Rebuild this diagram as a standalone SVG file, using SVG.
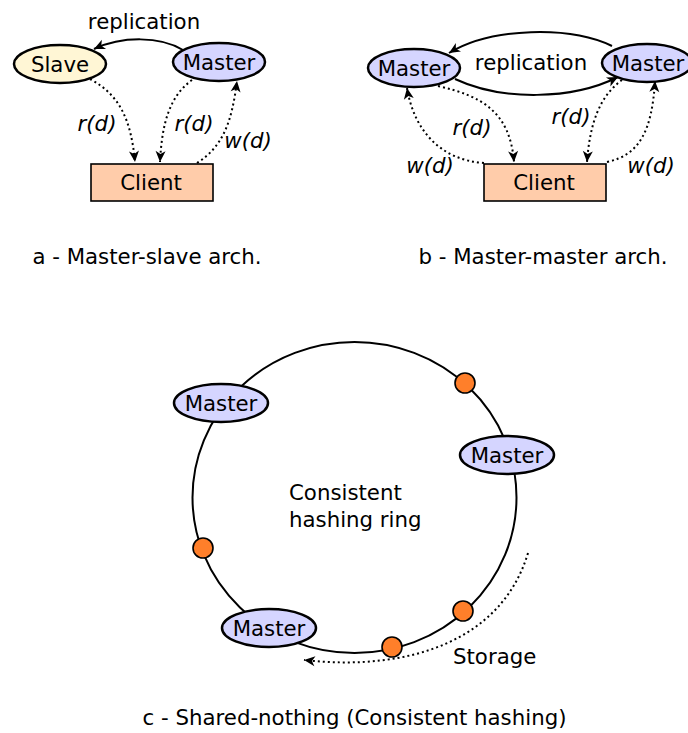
<svg xmlns="http://www.w3.org/2000/svg" width="688" height="733" viewBox="0 0 688 733">
<style>
text{font-family:"DejaVu Sans",Verdana,sans-serif;font-size:21.3px;fill:#000}
.c{text-anchor:middle}
.i{font-style:italic}
.master{fill:#d5d5ff;stroke:#000;stroke-width:2.5}
.slave{fill:#fff6d5;stroke:#000;stroke-width:2.5}
.client{fill:#ffccaa;stroke:#000;stroke-width:1.6}
.dot{fill:#ff7f2a;stroke:#000;stroke-width:1.6}
.solid{fill:none;stroke:#000;stroke-width:2}
.dotted{fill:none;stroke:#000;stroke-width:2;stroke-dasharray:2,3}
</style>
<defs>
<marker id="ah" markerUnits="userSpaceOnUse" markerWidth="14" markerHeight="12" viewBox="-12 -6 14 12" refX="0" refY="0" orient="auto">
<path d="M0,0 L-11,-5 L-8,0 L-11,5 Z" fill="#000"/>
</marker>
</defs>
<rect width="688" height="733" fill="#fff"/>

<g id="ring">
<ellipse cx="354.5" cy="497.5" rx="162" ry="155.5" fill="none" stroke="#000" stroke-width="2"/>
</g>

<g id="connectors">
<!-- a -->
<path class="solid" d="M183,50 C160,36 122,36 94,49" marker-end="url(#ah)"/>
<path class="dotted" d="M90,79 C120,95 131,120 135,162" marker-end="url(#ah)"/>
<path class="dotted" d="M192,80 C170,96 162,122 160,162" marker-end="url(#ah)"/>
<path class="dotted" d="M197,163 C224,146 232,120 237,81" marker-end="url(#ah)"/>
<!-- b -->
<path class="solid" d="M612,46 C570,26 492,27 449,53" marker-end="url(#ah)"/>
<path class="solid" d="M455,79 C502,101 572,100 618,77" marker-end="url(#ah)"/>
<path class="dotted" d="M438,86 C482,96 510,112 514,162" marker-end="url(#ah)"/>
<path class="dotted" d="M484,163 C440,160 414,130 407,88" marker-end="url(#ah)"/>
<path class="dotted" d="M622,80 C600,96 590,122 587,162" marker-end="url(#ah)"/>
<path class="dotted" d="M607,162 C640,155 652,130 655,81" marker-end="url(#ah)"/>
<!-- c -->
<path class="dotted" d="M528,553 C502,640 410,672 304,660" marker-end="url(#ah)"/>
</g>

<g id="a-slave"><ellipse class="slave" cx="60" cy="64" rx="46" ry="19"/><text class="c" x="60" y="71.5">Slave</text></g>
<g id="a-master"><ellipse class="master" cx="219" cy="62" rx="46" ry="19"/><text class="c" x="219" y="69.5">Master</text></g>
<g id="a-client"><rect class="client" x="91" y="164" width="122" height="37"/><text class="c" x="151" y="190">Client</text></g>
<text class="c" x="144" y="29">replication</text>
<text class="c i" x="97" y="131">r(d)</text>
<text class="c i" x="194" y="131">r(d)</text>
<text class="c i" x="248" y="148">w(d)</text>
<text class="c" x="147" y="264">a - Master-slave arch.</text>

<g id="b-master1"><ellipse class="master" cx="414" cy="68" rx="46" ry="19"/><text class="c" x="414" y="75.5">Master</text></g>
<g id="b-master2"><ellipse class="master" cx="647" cy="63" rx="45" ry="19"/><text class="c" x="648" y="70.5">Master</text></g>
<g id="b-client"><rect class="client" x="484" y="164" width="122" height="37"/><text class="c" x="544" y="190">Client</text></g>
<text class="c" x="531" y="70">replication</text>
<text class="c i" x="472" y="135">r(d)</text>
<text class="c i" x="571" y="124">r(d)</text>
<text class="c i" x="430" y="173">w(d)</text>
<text class="c i" x="651" y="173">w(d)</text>
<text class="c" x="543" y="264">b - Master-master arch.</text>

<g id="c-master1"><ellipse class="master" cx="221" cy="403" rx="47" ry="19"/><text class="c" x="221" y="410.5">Master</text></g>
<g id="c-master2"><ellipse class="master" cx="507" cy="455" rx="47" ry="19"/><text class="c" x="507" y="462.5">Master</text></g>
<g id="c-master3"><ellipse class="master" cx="269" cy="628" rx="47" ry="19"/><text class="c" x="269" y="635.5">Master</text></g>
<g id="c-dot1"><circle class="dot" cx="465" cy="383" r="10"/></g>
<g id="c-dot2"><circle class="dot" cx="203" cy="548" r="10"/></g>
<g id="c-dot3"><circle class="dot" cx="463" cy="611" r="10"/></g>
<g id="c-dot4"><circle class="dot" cx="392" cy="647" r="10"/></g>
<text x="289" y="500">Consistent</text>
<text x="289" y="527">hashing ring</text>
<text x="453" y="664">Storage</text>
<text class="c" x="354.5" y="725">c - Shared-nothing (Consistent hashing)</text>
</svg>
